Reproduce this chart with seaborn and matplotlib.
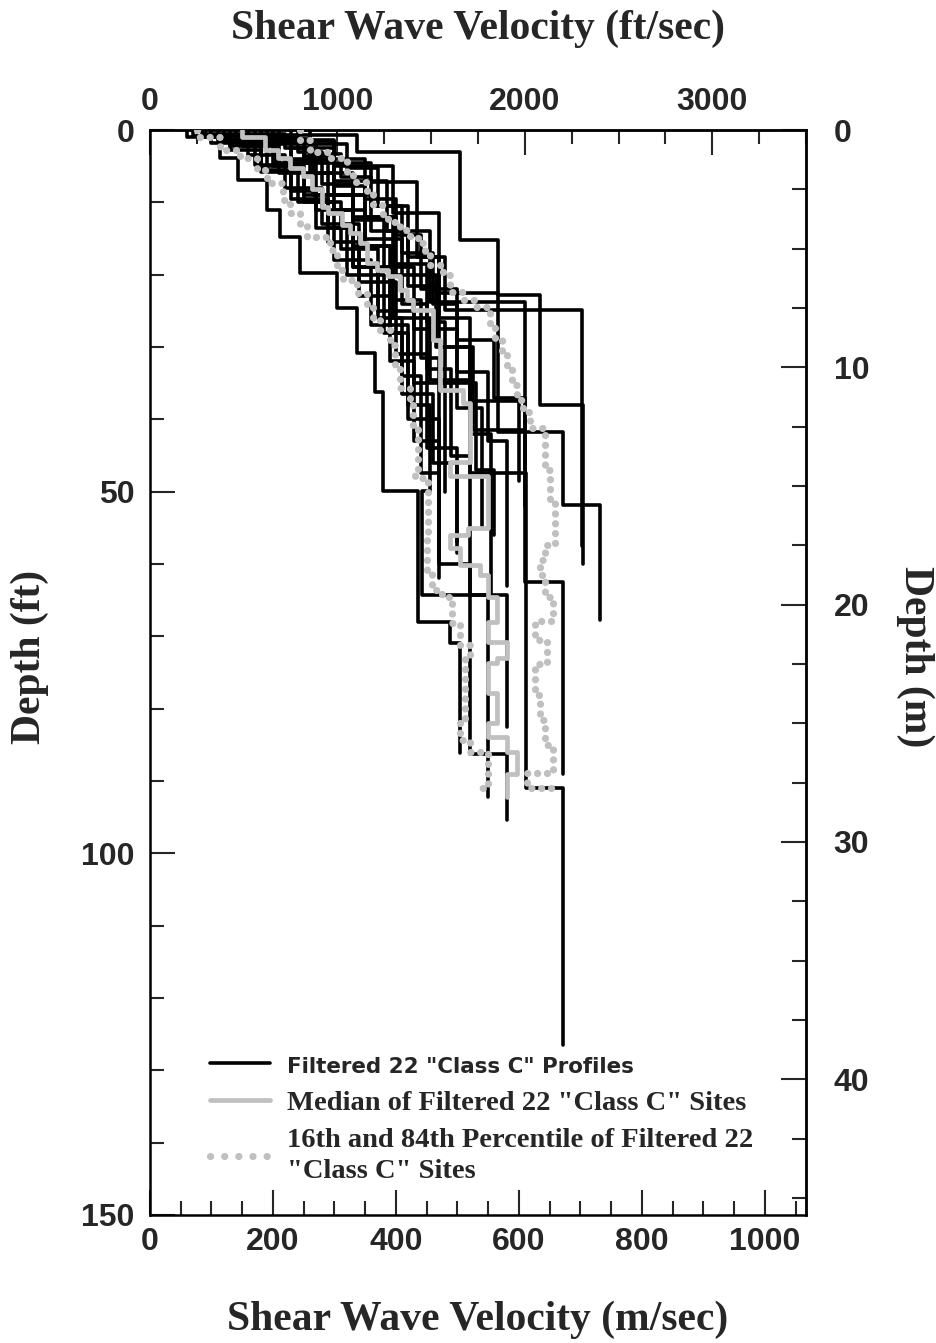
import numpy as np
import pandas as pd
import matplotlib
matplotlib.use("Agg")
import matplotlib.pyplot as plt
from matplotlib.lines import Line2D
from matplotlib.ticker import MultipleLocator, FixedLocator
from matplotlib.font_manager import FontProperties
import seaborn as sns

# ---------------------------------------------------------------- data
# Layered shear-wave velocity profiles: top depth of each layer (ft),
# layer velocity (m/s) and depth of the deepest measurement (ft).
profile_tops_ft = [
    [0, 0.7, 3.0, 15.2, 22.8, 38.0],
    [0, 1.8, 4.6, 7.2, 17.5, 24.9],
    [0, 1.4, 5.0, 11.5, 22.5, 41.8, 51.8],
    [0, 2.5, 7.0, 14.0, 23.8],
    [0, 1.2, 4.5, 9.0, 16.0, 26.0, 34.5, 47.4, 91.0],
    [0, 2.0, 6.0, 12.0, 20.0, 30.0, 41.5, 62.5],
    [0, 1.5, 5.0, 10.0, 18.0, 27.0, 40.0, 60.0, 86.2],
    [0, 2.0, 6.0, 11.0, 19.0, 28.0, 38.0, 49.9, 64.3],
    [0, 1.0, 4.0, 9.0, 15.0, 24.0, 33.0, 45.0, 64.3],
    [0, 1.0, 3.9, 6.9, 11.1, 14.8, 19.8, 24.6, 30.8, 36.2, 49.9, 68.0, 70.9],
    [0, 0.8, 3.5, 8.0, 13.0, 21.0, 31.0, 44.0],
    [0, 1.5, 4.0, 9.5, 14.5, 22.0, 29.0, 37.0],
    [0, 2.2, 5.5, 10.0, 16.5, 25.0, 35.0],
    [0, 1.0, 3.0, 7.5, 12.5, 19.0, 27.5, 38.5],
    [0, 1.8, 4.8, 8.5, 13.5, 20.0, 28.0, 36.5, 46.0],
    [0, 1.2, 3.3, 6.5, 10.5, 17.0, 24.0, 33.5, 43.0],
    [0, 0.6, 2.5, 6.0, 11.0, 16.0, 23.5, 31.5],
    [0, 1.6, 4.2, 9.0, 14.0, 21.5, 30.0, 42.0],
    [0, 0.9, 2.8, 5.8, 9.5, 15.5, 23.0, 32.0, 43.0],
    [0, 1.3, 3.6, 7.8, 12.0, 18.5, 26.5, 35.0, 47.0],
    [0, 2.0, 5.2, 10.5, 17.5, 26.0, 37.5],
    [0, 0.5, 2.2, 5.0, 9.0, 13.5, 19.0, 26.0, 34.0, 47.4],
]
profile_vs_ms = [
    [180, 337, 504, 566, 634, 704],
    [160, 250, 360, 434, 480, 702],
    [200, 300, 395, 470, 566, 672, 732],
    [230, 300, 385, 455, 610],
    [120, 205, 265, 330, 395, 455, 520, 611, 672],
    [190, 270, 330, 400, 465, 525, 610, 672],
    [110, 180, 240, 300, 360, 420, 470, 520, 580],
    [140, 210, 270, 330, 390, 420, 455, 442, 550],
    [160, 230, 290, 350, 410, 450, 490, 520, 580],
    [90, 114, 143, 190, 211, 244, 304, 337, 366, 379, 436, 488, 504],
    [70, 160, 220, 280, 340, 400, 450, 500],
    [240, 300, 350, 400, 440, 500, 560, 610],
    [130, 190, 250, 310, 370, 430, 480],
    [180, 240, 280, 330, 380, 430, 500, 540],
    [100, 170, 230, 270, 320, 380, 410, 460, 500],
    [210, 260, 310, 360, 410, 460, 500, 550, 580],
    [150, 220, 260, 300, 350, 390, 440, 470],
    [170, 230, 300, 360, 420, 470, 520, 555],
    [60, 130, 180, 230, 290, 340, 390, 430, 470],
    [200, 250, 300, 350, 395, 450, 480, 530, 560],
    [260, 320, 370, 420, 470, 520, 600],
    [85, 150, 200, 250, 290, 330, 370, 410, 440, 470],
]
profile_base_ft = [60.0, 57.5, 67.7, 46.0, 126.5, 89.0, 95.4, 92.2, 82.5, 86.1,
                   57.0, 52.0, 50.0, 55.0, 58.5, 63.0, 48.0, 64.5, 59.4, 56.0,
                   48.5, 62.0]

# Median profile
median_tops_ft = [0, 1.0, 2.8, 3.9, 5.3, 6.4, 8.2, 10.6, 11.5, 13.1, 14.2, 15.6,
                  18.4, 19.3, 20.2, 22.1, 23.5, 24.9, 29.0, 35.9, 37.7, 45.9,
                  47.8, 55.0, 56.0, 57.8, 60.1, 61.5, 64.5, 68.0, 70.8, 73.0,
                  73.7, 77.8, 82.0, 83.9, 86.0, 89.1]
median_vs_ms = [150, 187, 208, 228, 249, 263, 280, 289, 312, 325, 341, 353,
                369, 387, 407, 418, 428, 460, 472, 509, 520, 488,
                550, 517, 488, 504, 537, 550, 564, 550, 580, 564,
                550, 564, 550, 580, 597, 580]
median_base_ft = 92.2

# 16th percentile profile
p16_tops_ft = [0, 1.0, 2.8, 3.9, 5.5, 7.3, 9.7, 11.5, 13.1, 14.8, 16.6, 19.3,
               20.7, 22.5, 24.2, 26.0, 27.6, 29.7, 32.5, 35.7, 37.3, 40.8,
               47.0, 48.1, 56.0, 60.8, 63.6, 64.5, 68.1, 71.2, 72.6, 81.5,
               84.3, 86.0, 90.9]
p16_vs_ms = [76, 114, 146, 174, 190, 216, 228, 244, 255, 293, 304, 314,
             337, 353, 363, 374, 390, 398, 407, 423, 428, 436,
             431, 452, 450, 459, 475, 491, 504, 520, 512, 504,
             520, 550, 537]
p16_base_ft = 90.9

# 84th percentile profile
p84_tops_ft = [0, 1.4, 3.0, 3.9, 6.2, 7.2, 8.6, 10.4, 11.7, 12.7, 13.8, 14.6,
               15.6, 17.3, 18.7, 20.0, 22.4, 23.5, 24.5, 26.9, 28.7, 31.1,
               32.9, 35.2, 37.3, 39.0, 41.2, 47.0, 51.1, 57.4, 59.4, 61.5,
               64.5, 67.9, 70.5, 73.8, 78.1, 81.5, 85.0, 88.9, 90.9]
p84_vs_ms = [244, 260, 293, 320, 330, 353, 363, 379, 387, 407, 423, 436,
             447, 455, 476, 488, 509, 528, 553, 561, 572, 580,
             589, 597, 607, 618, 642, 650, 659, 642, 634, 642,
             655, 626, 646, 626, 634, 642, 655, 613, 667]
p84_base_ft = 90.9

velocity_ticks_ms = [0, 200, 400, 600, 800, 1000]
velocity_ticks_fts = [0, 1000, 2000, 3000]
depth_ticks_ft = [0, 50, 100, 150]
depth_ticks_m = [0, 10, 20, 30, 40]

legend_labels = [
    'Filtered 22 "Class C" Profiles',
    'Median of Filtered 22 "Class C" Sites',
    '16th and 84th Percentile of Filtered 22\n"Class C" Sites',
]

FT_PER_M = 1 / 0.3048
GREY = "#c0c0c0"


def step_path(tops, vs, base):
    """Turn layer tops / velocities into a stair-step (velocity, depth) path."""
    bottoms = list(tops[1:]) + [base]
    vel, dep = [], []
    for top, bot, v in zip(tops, bottoms, vs):
        vel += [v, v]
        dep += [top, bot]
    return vel, dep


rows = []
for i, (t, v, b) in enumerate(zip(profile_tops_ft, profile_vs_ms, profile_base_ft)):
    pv, pd_ = step_path(t, v, b)
    for a, d in zip(pv, pd_):
        rows.append({"site": i, "vs": a, "depth": d})
profiles = pd.DataFrame(rows)

mv, md = step_path(median_tops_ft, median_vs_ms, median_base_ft)
median_df = pd.DataFrame({"vs": mv, "depth": md})

prow = []
for name, (t, v, b) in {"p16": (p16_tops_ft, p16_vs_ms, p16_base_ft),
                        "p84": (p84_tops_ft, p84_vs_ms, p84_base_ft)}.items():
    pv, pd_ = step_path(t, v, b)
    for a, d in zip(pv, pd_):
        prow.append({"curve": name, "vs": a, "depth": d})
pct_df = pd.DataFrame(prow)

# ---------------------------------------------------------------- figure
sns.set_style("ticks")
plt.rcParams["font.family"] = ["Liberation Sans", "DejaVu Sans"]

fig = plt.figure(figsize=(9.36, 13.43), dpi=100)
ax = fig.add_axes([150 / 936, 1 - 1215 / 1343, 656 / 936, 1085 / 1343])

DOTS = (0, (0.01, 1.35))
sns.lineplot(data=profiles, x="vs", y="depth", units="site", estimator=None,
             sort=False, color="black", lw=2.6, ax=ax, legend=False, zorder=2)
sns.lineplot(data=median_df, x="vs", y="depth", estimator=None, sort=False,
             color=GREY, lw=3.4, ax=ax, legend=False, zorder=3)
sns.lineplot(data=pct_df, x="vs", y="depth", units="curve", estimator=None,
             sort=False, color=GREY, lw=5.2, ax=ax, legend=False, zorder=4)
for ln in ax.lines[-2:]:
    ln.set_linestyle(DOTS)
    ln.set_dash_capstyle("round")

ax.set_xlim(0, 3500 / FT_PER_M)
ax.set_ylim(150, 0)
ax.set_xlabel("")
ax.set_ylabel("")

tick_font = dict(fontsize=23, fontweight="bold")
ax.xaxis.set_major_locator(FixedLocator(velocity_ticks_ms))
ax.xaxis.set_minor_locator(MultipleLocator(50))
ax.yaxis.set_major_locator(FixedLocator(depth_ticks_ft))
ax.yaxis.set_minor_locator(MultipleLocator(10))
ax.set_xticklabels([str(t) for t in velocity_ticks_ms], **tick_font)
ax.set_yticklabels([str(t) for t in depth_ticks_ft], **tick_font)
ax.tick_params(which="both", direction="in", width=1.5, top=False, right=False)
ax.tick_params(axis="x", which="major", length=18, pad=9)
ax.tick_params(axis="y", which="major", length=18, pad=11)
ax.tick_params(which="minor", length=10)
for s in ax.spines.values():
    s.set_linewidth(1.8)
    s.set_color("black")

top = ax.secondary_xaxis("top", functions=(lambda v: v * FT_PER_M,
                                           lambda f: f / FT_PER_M))
top.xaxis.set_major_locator(FixedLocator(velocity_ticks_fts))
top.xaxis.set_minor_locator(MultipleLocator(250))
top.set_xticklabels([str(t) for t in velocity_ticks_fts], **tick_font)
top.tick_params(which="both", direction="in", width=1.5)
top.tick_params(which="major", length=18, pad=9)
top.tick_params(which="minor", length=10)
top.spines["top"].set_linewidth(1.8)

right = ax.secondary_yaxis("right", functions=(lambda d: d / FT_PER_M,
                                               lambda m: m * FT_PER_M))
right.yaxis.set_major_locator(FixedLocator(depth_ticks_m))
right.yaxis.set_minor_locator(MultipleLocator(2.5))
right.set_yticklabels([str(t) for t in depth_ticks_m], **tick_font)
right.tick_params(which="both", direction="in", width=1.5)
right.tick_params(which="major", length=18, pad=20)
right.tick_params(which="minor", length=10)
right.spines["right"].set_linewidth(1.8)

label_font = dict(family="Liberation Serif", fontsize=30, fontweight="bold")
fig.text(478 / 936, 1 - 29 / 1343, "Shear Wave Velocity (ft/sec)",
         ha="center", va="center", **label_font)
fig.text(478 / 936, 1 - 1320 / 1343, "Shear Wave Velocity (m/sec)",
         ha="center", va="center", **label_font)
fig.text(30 / 936, 1 - 657 / 1343, "Depth (ft)", rotation=90,
         ha="center", va="center", **label_font)
fig.text(915 / 936, 1 - 657 / 1343, "Depth (m)", rotation=270,
         ha="center", va="center", **label_font)

handles = [
    Line2D([], [], color="black", lw=2.6),
    Line2D([], [], color=GREY, lw=3.4),
    Line2D([], [], color=GREY, lw=5.2, linestyle=(0, (0.01, 1.95)),
           dash_capstyle="round"),
]
leg = ax.legend(handles, legend_labels, loc="upper left",
                bbox_to_anchor=((210 - 150) / 656, (1215 - 1053) / 1085),
                frameon=False, borderpad=0, borderaxespad=0,
                handlelength=2.1, handletextpad=0.6, labelspacing=0.45,
                prop=FontProperties(family="Liberation Serif", weight="bold",
                                    size=20.5))
texts = leg.get_texts()
texts[0].set_fontproperties(FontProperties(family="DejaVu Sans",
                                           weight="bold", size=15.4))
texts[2].set_linespacing(1.3)

fig.savefig("out.png", dpi=100, facecolor="white")
